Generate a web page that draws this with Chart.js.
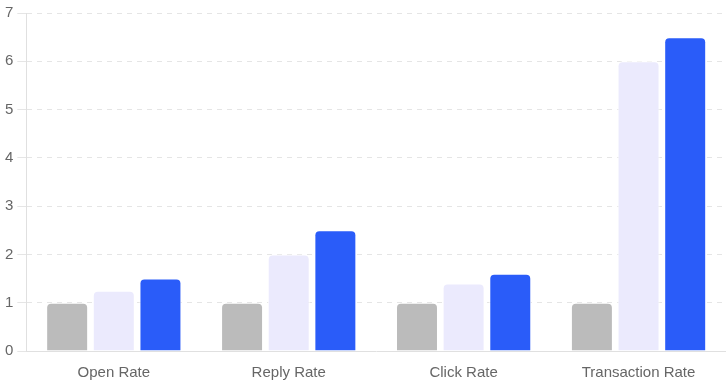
<!DOCTYPE html>
<html>
<head>
<meta charset="utf-8">
<script src="https://cdn.jsdelivr.net/npm/chart.js@4/dist/chart.umd.min.js"></script>
<style>
html,body{margin:0;padding:0;background:#fff;}
#wrap{width:726px;height:387px;}
</style>
</head>
<body>
<div id="wrap"><canvas id="c"></canvas></div>
<script>
const categories = ["Open Rate", "Reply Rate", "Click Rate", "Transaction Rate"];
const seriesA = [1, 1, 1, 1];
const seriesB = [1.25, 2, 1.4, 6];
const seriesC = [1.5, 2.5, 1.6, 6.5];

new Chart(document.getElementById('c'), {
  type: 'bar',
  data: {
    labels: categories,
    datasets: [
      { label: 'A', data: seriesA, backgroundColor: '#bbbbbb', borderColor: '#ffffff', borderWidth: 1, borderRadius: 5, borderSkipped: 'bottom' },
      { label: 'B', data: seriesB, backgroundColor: '#ebeafd', borderColor: '#ffffff', borderWidth: 1, borderRadius: 5, borderSkipped: 'bottom' },
      { label: 'C', data: seriesC, backgroundColor: '#2a5cf9', borderColor: '#ffffff', borderWidth: 1, borderRadius: 5, borderSkipped: 'bottom' }
    ]
  },
  options: {
    responsive: true,
    maintainAspectRatio: false,
    animation: false,
    layout: { padding: { top: 4, right: 0, bottom: 0, left: 1 } },
    plugins: { legend: { display: false }, tooltip: { enabled: false } },
    scales: {
      x: {
        grid: { display: false },
        border: { display: true, color: '#e0e0e0' },
        ticks: { color: '#666', font: { family: 'Liberation Sans, Arial, sans-serif', size: 15 }, padding: 5 }
      },
      y: {
        min: 0, max: 7,
        ticks: { stepSize: 1, color: '#666', font: { family: 'Liberation Sans, Arial, sans-serif', size: 15 }, padding: 4 },
        grid: { color: '#e5e5e5', drawTicks: true, tickLength: 9 },
        border: { display: true, color: '#e0e0e0', dash: [5, 5] }
      }
    }
  }
});
</script>
</body>
</html>
